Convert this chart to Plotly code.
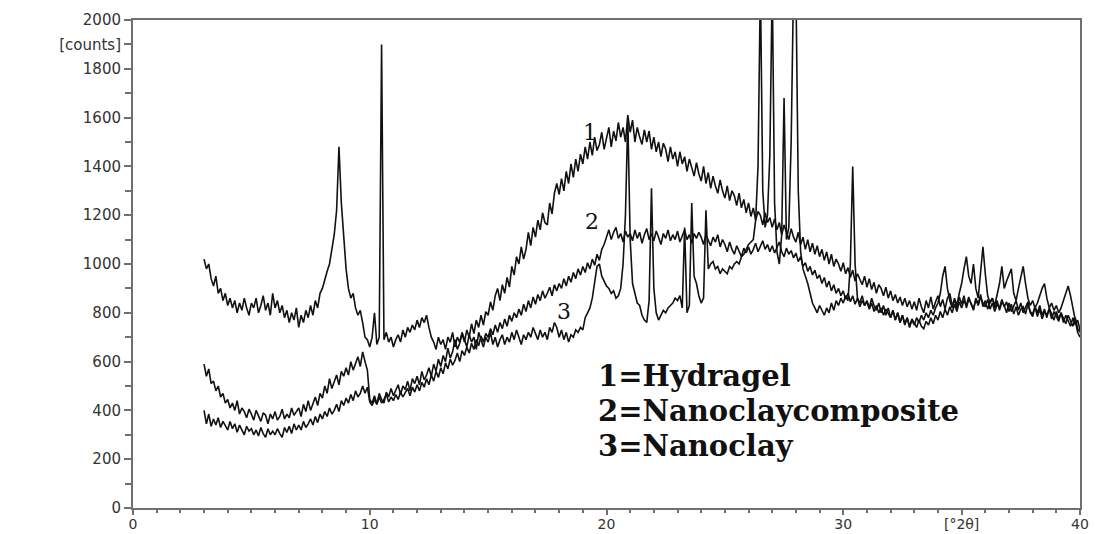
import numpy as np
import plotly.graph_objects as go

# 2-theta grid step (degrees) and start
x_start = 3.0
x_step = 0.1

# Curve 1 = Hydragel (values at 3.0, 3.1, ... 40.0)
hydragel = [
    590, 540, 570, 510, 520, 480, 500, 455, 470, 430,
    445, 410, 430, 400, 440, 385, 410, 395, 370, 405,
    385, 360, 400, 375, 355, 390, 380, 345, 385, 365,
    395, 360, 375, 405, 365, 385, 370, 410, 380, 395,
    410, 375, 425, 395, 440, 400, 430, 455, 420, 470,
    450, 500, 470, 530, 490, 515, 545, 505, 560, 540,
    575, 545, 600, 565, 590, 620, 580, 640, 600, 565,
    445, 430, 460, 425, 470, 445, 430, 475, 455, 490,
    460, 480, 505, 465, 500, 485, 520, 480, 530, 510,
    540, 505, 560, 525, 545, 575, 540, 590, 560, 610,
    580, 625, 600, 655, 615, 640, 690, 650, 675, 715,
    680, 730, 700, 755, 715, 770, 740, 790, 750, 805,
    790, 845, 810, 870, 900, 850, 915, 880, 945, 905,
    990, 955, 1030, 1000, 1070, 1020, 1060, 1130, 1075, 1150,
    1110, 1180, 1140, 1210, 1170, 1160, 1250, 1205, 1290, 1330,
    1285, 1350, 1300, 1380, 1330, 1410, 1355, 1430, 1380, 1450,
    1410, 1480, 1430, 1500, 1445, 1520, 1465, 1490, 1540, 1470,
    1515, 1560, 1480, 1545, 1505, 1580, 1520, 1560, 1500, 1610,
    1540, 1590, 1500, 1560, 1520, 1490, 1550, 1500, 1545, 1470,
    1520, 1460, 1500, 1440, 1495, 1470, 1420, 1480, 1430, 1460,
    1400, 1460, 1410, 1440, 1380, 1430, 1395, 1360, 1415, 1370,
    1340, 1400, 1330, 1375, 1310, 1360, 1320, 1290, 1345, 1300,
    1270, 1320, 1260, 1300, 1280, 1240, 1290, 1230, 1265, 1210,
    1250, 1195, 1230, 1180, 1215, 1200, 1160, 1210, 1170, 1190,
    1150, 1185, 1140, 1170, 1120, 1160, 1130, 1100, 1145, 1110,
    1090, 1130, 1080, 1110, 1060, 1100, 1050, 1085, 1040, 1075,
    1030, 1060, 1015, 1050, 1000, 1040, 990, 1020, 1000, 970,
    1005, 960, 985, 945, 975, 930, 960, 940, 915, 950,
    905, 940, 895, 925, 880, 915, 900, 870, 905, 860,
    890, 850, 875, 840, 865, 830, 860, 825, 850, 815,
    845, 810, 860, 825, 800, 850, 820, 865, 815, 845,
    870, 825, 855, 815, 860, 880, 830, 850, 820, 865,
    835, 870, 820, 855, 840, 810, 860, 835, 875, 825,
    850, 815, 845, 860, 820, 850, 810, 845, 830, 800,
    840, 805, 830, 850, 810, 840, 800, 825, 845, 800,
    785, 825, 800, 830, 790, 815, 780, 820, 795, 770,
    805, 775, 800, 760, 790, 770, 745, 780, 750, 770,
    730,
]

# Curve 2 = Nanoclaycomposite
nanoclaycomposite = [
    400, 345, 385, 335, 365, 340, 370, 330, 355, 340,
    320, 355, 325, 345, 310, 340, 320, 300, 335, 315,
    325, 300, 320, 295, 330, 305, 290, 325, 300, 315,
    300, 325, 305, 290, 330, 310, 335, 305, 345, 320,
    340, 320, 355, 330, 345, 365, 340, 375, 350, 385,
    365, 395, 375, 410, 385, 400, 425, 395, 440, 420,
    450, 430, 465, 440, 480, 455, 470, 500, 470, 495,
    435, 420, 445, 425, 455, 430, 445, 465, 435, 455,
    440, 465, 445, 475, 455, 470, 490, 460, 495, 475,
    505, 480, 515, 495, 530, 505, 545, 520, 560, 535,
    575, 550, 595, 570, 610, 585, 605, 635, 600, 645,
    625, 660, 635, 675, 650, 690, 665, 705, 680, 715,
    700, 735, 710, 750, 720, 760, 735, 775, 745, 790,
    765, 800, 780, 815, 790, 835, 805, 850, 820, 865,
    835, 875, 850, 890, 860, 880, 905, 870, 915, 890,
    920, 900, 940, 910, 950, 925, 965, 940, 980, 955,
    990, 965, 1005, 980, 1020, 995, 1040, 1015, 1060, 1080,
    1110, 1140, 1100, 1130, 1150, 1105, 1125, 1090, 1135, 1110,
    1125, 1095, 1140, 1105, 1130, 1085, 1120, 1145, 1100, 1125,
    1095, 1135, 1110, 1080, 1125, 1105, 1140, 1095, 1120, 1100,
    1135, 1090, 1115, 1140, 1100, 1120, 1085, 1125, 1105, 1130,
    1110, 1080, 1120, 1095, 1075, 1110, 1090, 1120, 1070, 1100,
    1080, 1050, 1090, 1060, 1040, 1075, 1050, 1030, 1065, 1045,
    1070, 1040, 1060, 1085, 1050, 1075, 1095, 1060, 1080, 1050,
    1075, 1045, 1070, 1090, 1050, 1030, 1065, 1040, 1055, 1025,
    1045, 1010, 1030, 990, 1005, 970, 990, 955, 975, 940,
    955, 920, 945, 905, 930, 890, 915, 880, 900, 870,
    890, 855, 880, 845, 870, 835, 860, 825, 850, 830,
    845, 815, 840, 805, 830, 800, 820, 790, 815, 800,
    780, 810, 770, 800, 760, 790, 755, 780, 745, 775,
    760, 740, 770, 745, 735, 765, 750, 780, 755, 790,
    770, 805, 780, 815, 790, 825, 800, 835, 805, 845,
    820, 850, 830, 865, 835, 815, 855, 830, 865, 840,
    825, 855, 815, 840, 805, 835, 820, 855, 825, 845,
    805, 835, 795, 825, 790, 815, 825, 795, 835, 805,
    795, 825, 785, 815, 775, 805, 790, 815, 775, 805,
    785, 765, 800, 775, 755, 790, 765, 745, 780, 735,
    720,
]

# Curve 3 = Nanoclay
nanoclay = [
    1020, 980, 1000, 940, 910, 950, 880, 900, 850, 880,
    830, 860, 820, 850, 800, 840, 810, 860, 820, 790,
    840, 820, 860, 800, 830, 870, 810, 840, 790, 880,
    820, 850, 800, 830, 780, 810, 760, 800, 770, 820,
    740, 790, 760, 810, 780, 830, 790, 850, 820, 880,
    900, 940, 970, 1000, 1060, 1120, 1220, 1480, 1250, 1120,
    980, 900, 860, 880, 820, 790, 810, 760, 700, 690,
    660, 700, 800, 670, 700, 1900, 690, 720, 680, 700,
    660, 690, 710, 680, 730, 700, 740, 720, 750, 730,
    770, 740, 780, 760, 790, 740, 700, 680, 650, 700,
    670, 690, 650, 700, 680, 720, 660, 700, 680, 720,
    690, 660, 710, 680, 700, 650, 720, 690, 660, 700,
    680, 720, 670, 700, 660, 690, 710, 670, 700, 680,
    720, 690, 730, 700, 670, 710, 690, 720, 700, 740,
    710, 690, 730, 700, 720, 690, 740, 720, 760, 740,
    700, 730, 690, 720, 680, 710, 700, 730, 720, 740,
    730, 780, 800, 820, 860, 920, 990, 1000, 950, 930,
    910, 900, 880, 890, 860, 870, 900, 1000, 1200, 1600,
    1100, 920, 880, 840, 830, 790, 770, 760, 850, 1310,
    900, 800, 770, 790, 810, 800, 820, 830, 840, 860,
    850, 870, 820, 1150, 800, 830, 1250, 950, 920, 870,
    840, 860, 1220, 980, 1000, 1010, 980, 990, 960, 980,
    970, 960, 990, 980, 1000, 1010, 1000, 1030, 1040, 1060,
    1080, 1090, 1100, 1180, 1400, 2150, 1300, 1150, 1200, 1450,
    2150, 1250, 1050, 1000, 1120, 1680, 1100, 1150, 1500, 2150,
    2150, 1300, 1050, 980, 950, 920, 880, 840, 820, 800,
    830, 810, 790, 820, 800, 840, 810, 850, 830, 860,
    840, 870, 850, 1000, 1400, 1000, 860, 840, 870, 830,
    850, 820, 860, 830, 810, 840, 800, 830, 790, 820,
    780, 810, 770, 800, 760, 790, 750, 780, 740, 770,
    750, 780, 760, 790, 770, 800, 780, 810, 790, 820,
    840, 880, 950, 990, 900, 850, 820, 860, 830, 880,
    920, 980, 1030, 950, 920, 1000, 900, 860, 960, 1070,
    960, 870, 840, 860, 830, 880, 920, 990, 900, 930,
    960, 980, 880, 850, 900, 950, 990, 920, 860, 830,
    850, 820, 840, 870, 900, 920, 860, 820, 840, 810,
    830, 800, 820, 850, 880, 910, 870, 820, 760, 720,
    700,
]

curve_labels = ["1", "2", "3"]
legend_lines = ["1=Hydragel", "2=Nanoclaycomposite", "3=Nanoclay"]

x_tick_vals = [0, 10, 20, 30, 35, 40]
x_tick_text = ["0", "10", "20", "30", "[°2θ]", "40"]
y_tick_vals = [0, 200, 400, 600, 800, 1000, 1200, 1400, 1600, 1800, 1900, 2000]
y_tick_text = ["0", "200", "400", "600", "800", "1000", "1200", "1400", "1600", "1800", "[counts]", "2000"]

axis_grey = "#6f6f6f"
line_black = "#111111"

fig = go.Figure()
for ys in (hydragel, nanoclaycomposite, nanoclay):
    xs = x_start + x_step * np.arange(len(ys))
    fig.add_trace(go.Scatter(x=xs, y=ys, mode="lines",
                             line=dict(color=line_black, width=1.6),
                             showlegend=False, hoverinfo="skip"))

y_tick_font = dict(family="DejaVu Sans", size=15, color="#333333")
x_tick_font = dict(family="DejaVu Sans", size=14, color="#333333")

fig.update_layout(
    width=1095, height=534,
    margin=dict(l=133, r=15, t=20, b=26),
    paper_bgcolor="white", plot_bgcolor="white",
    showlegend=False,
    xaxis=dict(range=[0, 40], showgrid=False, zeroline=False, automargin=False,
               showline=True, linecolor=axis_grey, linewidth=2, mirror=True,
               ticks="outside", ticklen=5, tickwidth=1.5, tickcolor=axis_grey,
               ticklabelstandoff=-3,
               tickvals=x_tick_vals, ticktext=x_tick_text, tickfont=x_tick_font,
               minor=dict(dtick=1, ticks="outside", ticklen=3, tickwidth=1.5,
                          tickcolor=axis_grey, showgrid=False)),
    yaxis=dict(range=[0, 2000], showgrid=False, zeroline=False, automargin=False,
               showline=True, linecolor=axis_grey, linewidth=2, mirror=True,
               ticks="outside", ticklen=7, tickwidth=1.5, tickcolor=axis_grey,
               tickvals=y_tick_vals, ticktext=y_tick_text, tickfont=y_tick_font,
               minor=dict(dtick=100, ticks="outside", ticklen=6, tickwidth=1.5,
                          tickcolor=axis_grey, showgrid=False)),
)

# curve number labels
label_pos = [(19.3, 1540), (19.4, 1175), (18.2, 805)]
for txt, (lx, ly) in zip(curve_labels, label_pos):
    fig.add_annotation(x=lx, y=ly, text=txt, showarrow=False,
                       font=dict(family="DejaVu Serif", size=22, color="#111111"))

legend_y = [540, 396, 253]
for txt, ly in zip(legend_lines, legend_y):
    fig.add_annotation(x=19.55, y=ly, text=txt, showarrow=False, xanchor="left",
                       font=dict(family="DejaVu Serif", size=29, color="#111111", weight="bold"))

fig.write_html("out.html", config={"displayModeBar": False},
               post_script="document.body.style.margin='0';document.body.style.overflow='hidden';")
